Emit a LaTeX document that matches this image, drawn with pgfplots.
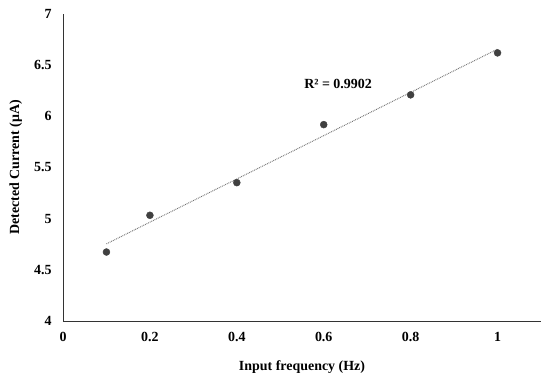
\documentclass[border=0pt]{standalone}
\usepackage{fontspec}
\setmainfont{Liberation Serif}
\usepackage{pgfplots}
\pgfplotsset{compat=1.18}
\definecolor{markc}{HTML}{404040}
\definecolor{trendc}{HTML}{707070}
\begin{document}
\begin{tikzpicture}
\begin{axis}[
  scale only axis,
  width=478bp, height=307bp,
  xmin=0, xmax=1.1, ymin=4, ymax=7,
  xtick={0,0.2,0.4,0.6,0.8,1},
  ytick={4,4.5,5,5.5,6,6.5,7},
  axis x line*=bottom, axis y line*=left,
  axis line style={-, line width=1pt, color=black!80},
  major tick length=0pt,
  /pgf/number format/assume math mode=true,
  ticklabel style={font=\fontsize{14}{16}\selectfont\bfseries},
  xticklabel style={yshift=-8bp},
  yticklabel style={xshift=-8bp},
  xlabel={Input frequency (Hz)},
  ylabel={Detected Current (μA)},
  label style={font=\fontsize{14}{16}\selectfont\bfseries},
  xlabel style={yshift=-12bp},
  ylabel style={yshift=5bp},
  clip=false,
]
\addplot[trendc, line width=1pt, dash pattern=on 0.8pt off 1pt, no marks] coordinates {(0.1,4.754) (1.0,6.657)};
\addplot[only marks, mark=*, mark size=3.5bp, mark options={fill=markc, draw=markc}] coordinates {
(0.1,4.674) (0.2,5.033) (0.4,5.352) (0.6,5.919) (0.8,6.21) (1.0,6.62)};
\node[font=\fontsize{14}{16}\selectfont\bfseries] at (axis cs:0.633,6.317) {R² = 0.9902};
\end{axis}
\pgfresetboundingbox
\useasboundingbox ([shift={(-63bp,-59bp)}]current axis.south west) rectangle ([shift={(9bp,14bp)}]current axis.north east);
\end{tikzpicture}
\end{document}
